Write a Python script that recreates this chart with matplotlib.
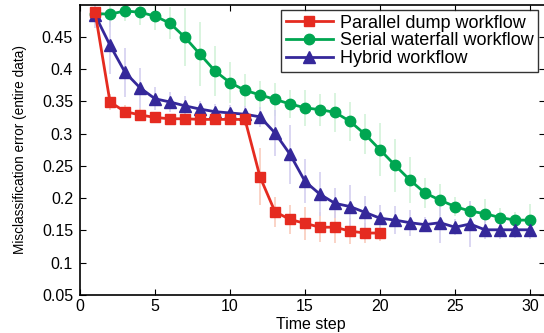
import matplotlib
matplotlib.use("Agg")
import matplotlib.pyplot as plt

plt.rcParams['font.family'] = ['Liberation Sans', 'DejaVu Sans']

# time steps
steps_par = list(range(1, 21))
steps_ser = list(range(1, 31))
steps_hyb = list(range(1, 31))

# Parallel dump workflow
par_mean = [0.489, 0.349, 0.334, 0.329, 0.325, 0.323, 0.323, 0.322, 0.322, 0.322,
            0.322, 0.233, 0.179, 0.167, 0.161, 0.155, 0.155, 0.149, 0.146, 0.146]
par_err = [0.008, 0.012, 0.010, 0.010, 0.008, 0.008, 0.008, 0.008, 0.008, 0.008,
           0.010, 0.044, 0.023, 0.022, 0.026, 0.023, 0.025, 0.020, 0.015, 0.012]

# Serial waterfall workflow
ser_mean = [0.486, 0.485, 0.490, 0.488, 0.482, 0.471, 0.449, 0.423, 0.397, 0.379,
            0.367, 0.360, 0.353, 0.346, 0.340, 0.337, 0.333, 0.319, 0.299, 0.275,
            0.251, 0.228, 0.208, 0.197, 0.187, 0.180, 0.176, 0.170, 0.166, 0.166]
ser_err = [0.010, 0.020, 0.015, 0.020, 0.022, 0.025, 0.045, 0.050, 0.039, 0.032,
           0.025, 0.022, 0.025, 0.022, 0.028, 0.025, 0.030, 0.030, 0.031, 0.041,
           0.041, 0.036, 0.023, 0.025, 0.015, 0.015, 0.022, 0.015, 0.012, 0.025]

# Hybrid workflow
hyb_mean = [0.484, 0.437, 0.395, 0.371, 0.354, 0.349, 0.343, 0.338, 0.334, 0.332,
            0.330, 0.326, 0.301, 0.268, 0.226, 0.206, 0.192, 0.187, 0.178, 0.169,
            0.166, 0.162, 0.159, 0.162, 0.155, 0.160, 0.151, 0.151, 0.151, 0.151]
hyb_err = [0.020, 0.045, 0.038, 0.031, 0.018, 0.015, 0.015, 0.012, 0.012, 0.012,
           0.012, 0.015, 0.035, 0.046, 0.034, 0.034, 0.023, 0.034, 0.025, 0.020,
           0.022, 0.020, 0.012, 0.031, 0.012, 0.036, 0.015, 0.015, 0.012, 0.014]

labels = ['Parallel dump workflow', 'Serial waterfall workflow', 'Hybrid workflow']

red = '#e52b20'
green = '#00a651'
blue = '#35289a'

fig = plt.figure(figsize=(5.44, 3.33), dpi=100)
ax = fig.add_axes([80 / 544, 38 / 333, 465 / 544, 290.5 / 333])

# light error bars behind the lines
ax.errorbar(steps_par, par_mean, yerr=par_err, fmt='none', ecolor='#f9ccbc', elinewidth=1.2, zorder=1)
ax.errorbar(steps_ser, ser_mean, yerr=ser_err, fmt='none', ecolor='#d3f2d9', elinewidth=1.2, zorder=1)
ax.errorbar(steps_hyb, hyb_mean, yerr=hyb_err, fmt='none', ecolor='#d4d0f0', elinewidth=1.2, zorder=1)

ax.plot(steps_par, par_mean, '-s', color=red, lw=2, ms=6.5, label=labels[0], zorder=3)
ax.plot(steps_ser, ser_mean, '-o', color=green, lw=2, ms=7.5, label=labels[1], zorder=2)
ax.plot(steps_hyb, hyb_mean, '-^', color=blue, lw=2, ms=8, label=labels[2], zorder=2)

ax.set_xlim(0, 31)
ax.set_ylim(0.05, 0.5)
ax.set_xticks([0, 5, 10, 15, 20, 25, 30])
ax.set_yticks([0.05, 0.1, 0.15, 0.2, 0.25, 0.3, 0.35, 0.4, 0.45])
ax.set_yticklabels(['0.05', '0.1', '0.15', '0.2', '0.25', '0.3', '0.35', '0.4', '0.45'])
ax.tick_params(direction='in', top=True, right=True, length=4, labelsize=11.5)
ax.tick_params(axis='x', pad=3)
ax.tick_params(axis='y', pad=5)
for s in ax.spines.values():
    s.set_linewidth(1.2)

ax.set_xlabel('Time step', fontsize=11.5)
ax.set_ylabel('Misclassification error (entire data)', fontsize=9.8)
ax.xaxis.set_label_coords((311 - 80) / 465, -(329 - 295) / 290.5)
ax.yaxis.set_label_coords(-(80 - 27) / 465, 0.5)
ax.xaxis.label.set_va('baseline')

leg = ax.legend(loc='upper right', fontsize=13, frameon=True, fancybox=False,
                edgecolor='black', borderpad=0.25, labelspacing=0.05,
                handlelength=2.6, handletextpad=0.4, borderaxespad=0,
                bbox_to_anchor=((538 - 80) / 465, 1 - (10 - 4.5) / 290.5))
leg.get_frame().set_linewidth(1.0)

fig.savefig('out.png', dpi=100)
